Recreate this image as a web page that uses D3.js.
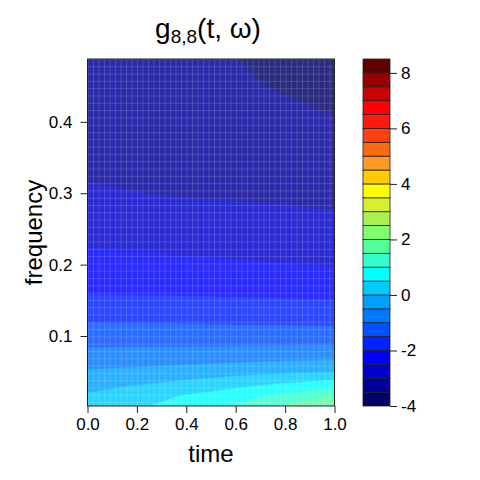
<!DOCTYPE html>
<html>
<head>
<meta charset="utf-8">
<script src="https://cdn.jsdelivr.net/npm/d3@7/dist/d3.min.js"></script>
<style>
  html, body { margin: 0; padding: 0; background: #fff; }
  svg { display: block; font-family: "Liberation Sans", Arial, Helvetica, sans-serif; }
</style>
</head>
<body>
<svg id="chart" width="480" height="480"></svg>
<script>
// ---- data ----
const times = [0, 0.2, 0.4, 0.6, 0.8, 1.0];
const freqs = [0.002, 0.015, 0.03, 0.05, 0.07, 0.09, 0.11, 0.13, 0.16, 0.2, 0.25, 0.3, 0.35, 0.4, 0.45, 0.488];
// g(t, w) values, one array per time column, ordered as freqs
const g_t00 = [0.30, 0.08, -0.15, -0.45, -0.78, -1.10, -1.39, -1.65, -2.02, -2.35, -2.68, -2.95, -3.12, -3.22, -3.30, -3.35];
const g_t02 = [0.38, 0.215, 0.025, -0.38, -0.755, -1.09, -1.39, -1.67, -2.04, -2.38, -2.71, -2.99, -3.17, -3.28, -3.36, -3.42];
const g_t04 = [0.85, 0.57, 0.21, -0.29, -0.72, -1.09, -1.40, -1.68, -2.05, -2.42, -2.75, -3.04, -3.22, -3.34, -3.42, -3.47];
const g_t06 = [1.04, 0.82, 0.41, -0.18, -0.69, -1.08, -1.42, -1.70, -2.07, -2.45, -2.79, -3.06, -3.22, -3.34, -3.44, -3.49];
const g_t08 = [1.55, 1.16, 0.64, -0.09, -0.645, -1.07, -1.43, -1.71, -2.09, -2.49, -2.83, -3.08, -3.23, -3.38, -3.54, -3.62];
const g_t10 = [1.90, 1.55, 0.86, -0.01, -0.60, -1.06, -1.44, -1.73, -2.11, -2.53, -2.88, -3.12, -3.30, -3.47, -3.65, -3.75];
const columns = [g_t00, g_t02, g_t04, g_t06, g_t08, g_t10];

const levels = [-4, -3.5, -3, -2.5, -2, -1.5, -1, -0.5, 0, 0.5, 1, 1.5, 2, 2.5, 3, 3.5, 4, 4.5, 5, 5.5, 6, 6.5, 7, 7.5, 8, 8.5];
const bandColors = ["#000066", "#000099", "#0000CC", "#0000FF", "#0022FF", "#0050FF", "#0078FF", "#00A0FF", "#00CCFF", "#00FFFF",
  "#33FFCC", "#55FF99", "#80FF70", "#AAF050", "#D4F030", "#FFFF00", "#FFCC00", "#FF9922", "#FF6A10", "#FF4010",
  "#FF1A10", "#FF0000", "#CC0000", "#990000", "#5E0000"];
const xTicks = [0, 0.2, 0.4, 0.6, 0.8, 1.0];
const yTicks = [0.1, 0.2, 0.3, 0.4];
const keyTicks = [-4, -2, 0, 2, 4, 6, 8];

// ---- layout ----
const FONT = "'Liberation Sans', Arial, Helvetica, sans-serif";
const svg = d3.select("#chart");
const L = 87.5, R = 334.5, T = 59, B = 406;
const x = d3.scaleLinear().domain([0, 1]).range([L, R]);
const y = d3.scaleLinear().domain([0.002, 0.488]).range([B, T]);

// grid
const nx = times.length, ny = freqs.length;
const values = new Array(nx * ny);
for (let j = 0; j < ny; j++) for (let i = 0; i < nx; i++) values[j * nx + i] = columns[i][j];
const idxToT = d3.scaleLinear().domain(d3.range(nx)).range(times).clamp(true);
const idxToF = d3.scaleLinear().domain(d3.range(ny)).range(freqs).clamp(true);

const contours = d3.contours().size([nx, ny]).thresholds(levels.slice(0, -1))(values);
const proj = d3.geoTransform({
  point: function(px, py) { this.stream.point(x(idxToT(px - 0.5)), y(idxToF(py - 0.5))); }
});
const path = d3.geoPath(proj);

const defs = svg.append("defs");
defs.append("clipPath").attr("id", "plotclip").append("rect")
  .attr("x", L).attr("y", T).attr("width", R - L).attr("height", B - T);
const pat = defs.append("pattern").attr("id", "seam").attr("patternUnits", "userSpaceOnUse")
  .attr("x", L).attr("y", T).attr("width", 5.5).attr("height", 7.3);
pat.append("rect").attr("x", 0).attr("y", 0).attr("width", 1).attr("height", 7.3).attr("fill", "#fff").attr("fill-opacity", 0.14);
pat.append("rect").attr("x", 0).attr("y", 0).attr("width", 5.5).attr("height", 1).attr("fill", "#fff").attr("fill-opacity", 0.14);

const plot = svg.append("g").attr("clip-path", "url(#plotclip)");
const fillG = plot.append("g").attr("opacity", 0.83);
fillG.selectAll("path").data(contours).join("path")
  .attr("d", path)
  .attr("fill", (d, i) => bandColors[i])
  .attr("stroke", (d, i) => bandColors[i])
  .attr("stroke-width", 0.3);
plot.append("rect").attr("x", L).attr("y", T).attr("width", R - L).attr("height", B - T).attr("fill", "url(#seam)");

// box
svg.append("rect").attr("x", L).attr("y", T).attr("width", R - L).attr("height", B - T)
  .attr("fill", "none").attr("stroke", "#222").attr("stroke-width", 1);

function styleAxis(a) {
  a.attr("font-family", FONT).attr("font-size", 17);
  a.select(".domain").remove();
  a.selectAll("text").attr("fill", "#000");
  a.selectAll("line").attr("stroke", "#222");
}

// x axis
const xa = svg.append("g").attr("transform", `translate(0,${B})`)
  .call(d3.axisBottom(x).tickValues(xTicks).tickFormat(d3.format(".1f")).tickSize(7).tickPadding(5));
styleAxis(xa);

// y axis
const ya = svg.append("g").attr("transform", `translate(${L},0)`)
  .call(d3.axisLeft(y).tickValues(yTicks).tickFormat(d3.format(".1f")).tickSize(7).tickPadding(8));
styleAxis(ya);

// axis titles
svg.append("text").attr("x", (L + R) / 2).attr("y", 462).attr("text-anchor", "middle")
  .attr("font-size", 24).text("time");
svg.append("text").attr("transform", `translate(42,${(T + B) / 2}) rotate(-90)`).attr("text-anchor", "middle")
  .attr("font-size", 24).text("frequency");

// title
const title = svg.append("text").attr("x", 208).attr("y", 38).attr("text-anchor", "middle").attr("font-size", 28);
title.append("tspan").text("g");
title.append("tspan").attr("font-size", 19).attr("dy", 5).text("8,8");
title.append("tspan").attr("dy", -5).text("(t, ω)");

// key
const kL = 363, kR = 390;
const ky = d3.scaleLinear().domain([levels[0], levels[levels.length - 1]]).range([B, T]);
const key = svg.append("g");
key.selectAll("rect").data(d3.range(levels.length - 1)).join("rect")
  .attr("x", kL).attr("width", kR - kL)
  .attr("y", i => ky(levels[i + 1])).attr("height", i => ky(levels[i]) - ky(levels[i + 1]))
  .attr("fill", i => bandColors[i]).attr("stroke", "#222").attr("stroke-width", 0.8);
const ka = svg.append("g").attr("transform", `translate(${kR},0)`)
  .call(d3.axisRight(ky).tickValues(keyTicks).tickFormat(d => d < 0 ? "-" + Math.abs(d) : String(d)).tickSize(7).tickPadding(4));
styleAxis(ka);
</script>
</body>
</html>
